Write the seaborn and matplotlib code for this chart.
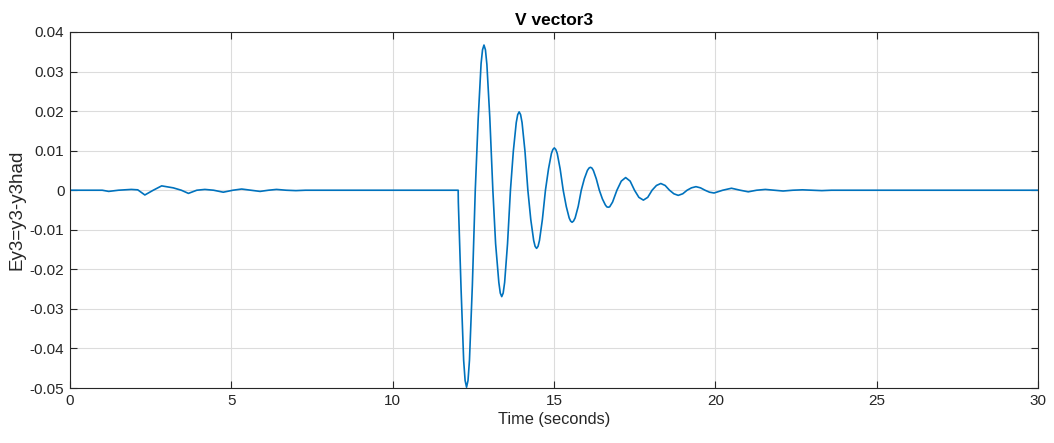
import matplotlib
matplotlib.use("Agg")
import matplotlib.pyplot as plt
import pandas as pd
import seaborn as sns

# Error signal Ey3 sampled at key points (seconds, value)
time_s = [
    0.0, 1.0, 1.2, 1.5, 1.9, 2.1, 2.32, 2.58, 2.84, 3.05, 3.2, 3.45, 3.67, 3.93,
    4.18, 4.45, 4.75, 5.05, 5.32, 5.6, 5.89, 6.15, 6.4, 6.7, 7.0, 7.3, 8.0,
    10.0, 12.03,
    12.035, 12.12, 12.20, 12.245, 12.29, 12.335,
    12.38, 12.47, 12.56, 12.65, 12.74, 12.785, 12.83, 12.875,
    12.92, 13.01, 13.105, 13.19, 13.29, 13.335, 13.38, 13.425,
    13.47, 13.56, 13.65, 13.74, 13.83, 13.875, 13.92, 13.965,
    14.01, 14.10, 14.19, 14.28, 14.37, 14.415, 14.46, 14.505,
    14.55, 14.64, 14.735, 14.83, 14.92, 14.965, 15.01, 15.055,
    15.10, 15.19, 15.285, 15.38, 15.47, 15.515, 15.56, 15.605,
    15.655, 15.75, 15.845, 15.94, 16.035, 16.085, 16.13, 16.175,
    16.22, 16.31, 16.405, 16.50, 16.59, 16.635, 16.68, 16.725,
    16.815, 16.95, 17.085, 17.22,
    17.36, 17.495, 17.63, 17.77,
    17.905, 18.04, 18.175, 18.31,
    18.445, 18.58, 18.715, 18.85,
    18.99, 19.125, 19.26, 19.40,
    19.54, 19.68, 19.82, 19.96,
    20.23, 20.50, 20.77, 21.02, 21.28, 21.55, 21.82, 22.1, 22.4, 22.7,
    23.0, 23.3, 23.6, 25.0, 30.0,
]
ey3 = [
    0.0, 0.0, -0.0003, 0.0, 0.0002, 0.0001, -0.0012, 0.0, 0.0011, 0.0008, 0.0006,
    0.0, -0.0008, 0.0, 0.0002, 0.0, -0.0005, 0.0, 0.0003, 0.0, -0.0003, 0.0,
    0.0002, 0.0, -0.0001, 0.0, 0.0, 0.0, 0.0,
    -0.003, -0.025, -0.043, -0.0481, -0.0498, -0.0481,
    -0.043, -0.024, 0.0, 0.018, 0.032, 0.0355, 0.0367, 0.0355,
    0.0318, 0.0184, 0.0, -0.0135, -0.0233, -0.0260, -0.0269, -0.0260,
    -0.0233, -0.0135, 0.0, 0.0099, 0.0171, 0.0191, 0.0198, 0.0191,
    0.0171, 0.0099, 0.0, -0.0074, -0.0127, -0.0142, -0.0147, -0.0142,
    -0.0127, -0.0074, 0.0, 0.0054, 0.0093, 0.0103, 0.0107, 0.0103,
    0.0093, 0.0054, 0.0, -0.0041, -0.0070, -0.0078, -0.0081, -0.0078,
    -0.0070, -0.0041, 0.0, 0.0029, 0.0050, 0.0056, 0.0058, 0.0056,
    0.0050, 0.0029, 0.0, -0.0022, -0.0037, -0.0042, -0.0043, -0.0042,
    -0.0030, 0.0, 0.0023, 0.0032,
    0.0023, 0.0, -0.0018, -0.0025,
    -0.0018, 0.0, 0.0012, 0.0017,
    0.0012, 0.0, -0.0009, -0.0013,
    -0.0009, 0.0, 0.0006, 0.0009,
    0.0006, 0.0, -0.0005, -0.0007,
    0.0, 0.0005, 0.0, -0.0004, 0.0, 0.0002, 0.0, -0.0002, 0.0, 0.0001,
    0.0, -0.0001, 0.0, 0.0, 0.0,
]

x_ticks = [0, 5, 10, 15, 20, 25, 30]
x_tick_labels = ["0", "5", "10", "15", "20", "25", "30"]
y_ticks = [-0.05, -0.04, -0.03, -0.02, -0.01, 0.0, 0.01, 0.02, 0.03, 0.04]
y_tick_labels = ["-0.05", "-0.04", "-0.03", "-0.02", "-0.01", "0",
                 "0.01", "0.02", "0.03", "0.04"]

sns.set_theme(style="whitegrid")
plt.rcParams["font.family"] = ["Liberation Sans", "DejaVu Sans"]
plt.rcParams["axes.unicode_minus"] = False

df = pd.DataFrame({"t": time_s, "ey3": ey3})

fig = plt.figure(figsize=(10.54, 4.43), dpi=100)
fig.patch.set_facecolor("white")
ax = fig.add_axes([70 / 1054, 55 / 443, 968 / 1054, 356 / 443])

sns.lineplot(data=df, x="t", y="ey3", ax=ax, estimator=None, sort=False,
             color="#0072BD", linewidth=1.2)

ax.set_xlim(0, 30)
ax.set_ylim(-0.05, 0.04)
ax.set_xticks(x_ticks)
ax.set_xticklabels(x_tick_labels)
ax.set_yticks(y_ticks)
ax.set_yticklabels(y_tick_labels)

ax.set_facecolor("white")
ax.grid(True, color="#dcdcdc", linewidth=0.8)
for side in ["top", "bottom", "left", "right"]:
    ax.spines[side].set_visible(True)
    ax.spines[side].set_color("#262626")
    ax.spines[side].set_linewidth(0.8)

ax.tick_params(axis="both", which="both", direction="in", length=5, width=0.8,
               color="#262626", labelcolor="#262626", labelsize=11,
               top=True, right=True, bottom=True, left=True, pad=4)

ax.set_xlabel("Time (seconds)", fontsize=11.8, color="#262626", labelpad=3)
ax.set_ylabel("Ey3=y3-y3had", fontsize=13.5, color="#262626", labelpad=3)
ax.set_title("V vector3", fontsize=12.5, fontweight="bold", color="#000000", pad=5)

fig.savefig("out.png", dpi=100, facecolor="white")
